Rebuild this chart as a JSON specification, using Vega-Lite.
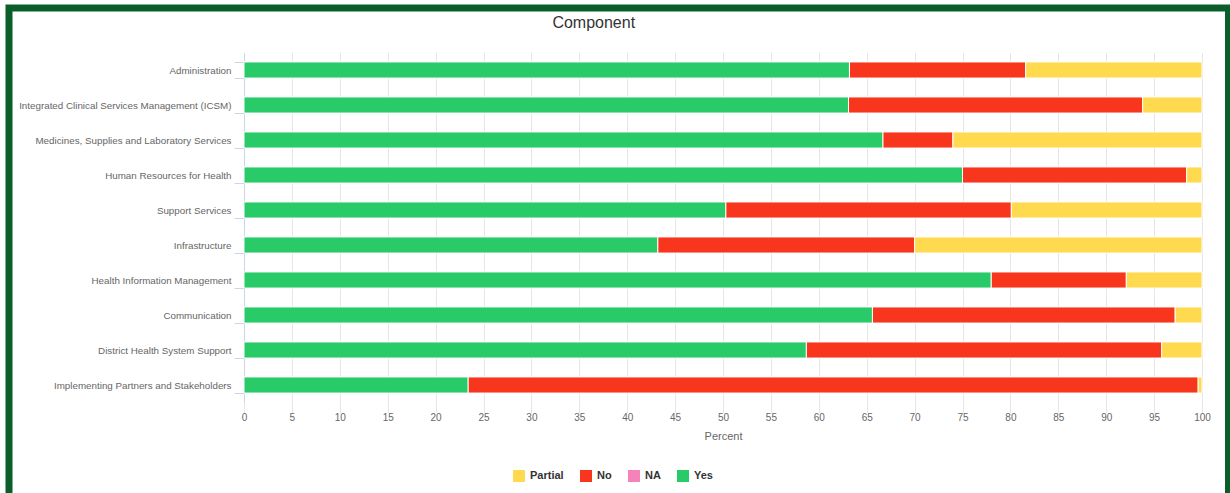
{
  "$schema": "https://vega.github.io/schema/vega-lite/v6.json",
  "width": 1219.5,
  "height": 497,
  "autosize": {"type": "none"},
  "padding": {"left": 9, "top": 8, "right": 1.5, "bottom": -12},
  "background": "white",
  "title": {"text": "Component", "offset": -28, "dx": -25, "font": "Liberation Sans", "fontSize": 16, "fontWeight": "normal", "color": "#333333", "anchor": "middle", "frame": "group"},
  "config": {"view": {"stroke": "#0b5e2a", "strokeWidth": 7, "fill": "white"}},
  "data": {"values": [
    {"component": "Administration", "status": "Yes", "value": 63.2},
    {"component": "Administration", "status": "No", "value": 18.4},
    {"component": "Administration", "status": "Partial", "value": 18.4},
    {"component": "Integrated Clinical Services Management (ICSM)", "status": "Yes", "value": 63.1},
    {"component": "Integrated Clinical Services Management (ICSM)", "status": "No", "value": 30.7},
    {"component": "Integrated Clinical Services Management (ICSM)", "status": "Partial", "value": 6.2},
    {"component": "Medicines, Supplies and Laboratory Services", "status": "Yes", "value": 66.7},
    {"component": "Medicines, Supplies and Laboratory Services", "status": "No", "value": 7.3},
    {"component": "Medicines, Supplies and Laboratory Services", "status": "Partial", "value": 26.0},
    {"component": "Human Resources for Health", "status": "Yes", "value": 75.0},
    {"component": "Human Resources for Health", "status": "No", "value": 23.4},
    {"component": "Human Resources for Health", "status": "Partial", "value": 1.6},
    {"component": "Support Services", "status": "Yes", "value": 50.3},
    {"component": "Support Services", "status": "No", "value": 29.8},
    {"component": "Support Services", "status": "Partial", "value": 19.9},
    {"component": "Infrastructure", "status": "Yes", "value": 43.2},
    {"component": "Infrastructure", "status": "No", "value": 26.8},
    {"component": "Infrastructure", "status": "Partial", "value": 30.0},
    {"component": "Health Information Management", "status": "Yes", "value": 78.0},
    {"component": "Health Information Management", "status": "No", "value": 14.1},
    {"component": "Health Information Management", "status": "Partial", "value": 7.9},
    {"component": "Communication", "status": "Yes", "value": 65.6},
    {"component": "Communication", "status": "No", "value": 31.6},
    {"component": "Communication", "status": "Partial", "value": 2.8},
    {"component": "District Health System Support", "status": "Yes", "value": 58.7},
    {"component": "District Health System Support", "status": "No", "value": 37.1},
    {"component": "District Health System Support", "status": "Partial", "value": 4.2},
    {"component": "Implementing Partners and Stakeholders", "status": "Yes", "value": 23.4},
    {"component": "Implementing Partners and Stakeholders", "status": "No", "value": 76.2},
    {"component": "Implementing Partners and Stakeholders", "status": "Partial", "value": 0.4}
  ]},
  "resolve": {"axis": {"x": "independent"}},
  "layer": [
    {
      "transform": [{"filter": "datum.value < 0"}],
      "mark": {"type": "bar"},
      "encoding": {
        "x": {
          "field": "value", "type": "quantitative",
          "scale": {"domain": [0, 100], "range": [235, 1193], "nice": false},
          "axis": {"orient": "top", "offset": 0, "values": [0,5,10,15,20,25,30,35,40,45,50,55,60,65,70,75,80,85,90,95,100], "domain": false, "ticks": false, "labels": false, "title": null, "grid": true, "gridColor": "#e6e6e6", "gridWidth": 1}
        },
        "y": {
          "field": "component", "type": "nominal", "sort": null,
          "scale": {"range": [44.5, 394.5], "paddingInner": 0.54, "paddingOuter": 0.27}
        }
      }
    },
    {
      "transform": [{"calculate": "indexof(['Yes','No','NA','Partial'], datum.status)", "as": "stackOrder"}],
      "mark": {"type": "bar", "stroke": "white", "strokeWidth": 1},
      "encoding": {
        "y": {
          "field": "component", "type": "nominal", "sort": null, "title": null,
          "scale": {"range": [44.5, 394.5], "paddingInner": 0.54, "paddingOuter": 0.27},
          "axis": {"offset": -235, "labelLimit": 320, "labelFont": "Liberation Sans", "labelFontSize": 9.8, "labelColor": "#666666", "labelPadding": 3, "tickSize": 10, "tickColor": "#ccd6eb", "domainColor": "#ccd6eb", "tickBand": "extent", "grid": false}
        },
        "x": {
          "field": "value", "type": "quantitative", "stack": "zero", "title": "Percent",
          "scale": {"domain": [0, 100], "range": [235, 1193], "nice": false},
          "axis": {"orient": "bottom", "offset": -102.5, "values": [0,5,10,15,20,25,30,35,40,45,50,55,60,65,70,75,80,85,90,95,100], "domain": false, "grid": false, "tickColor": "#e6e6e6", "tickSize": 10, "labelFont": "Liberation Sans", "labelFontSize": 10, "labelColor": "#666666", "labelPadding": 0, "labelFlush": false, "titleFont": "Liberation Sans", "titleFontSize": 11, "titleFontWeight": "normal", "titleColor": "#666666", "titlePadding": 8}
        },
        "color": {
          "field": "status", "type": "nominal",
          "scale": {"domain": ["Partial", "No", "NA", "Yes"], "range": ["#ffda4e", "#f8361d", "#f782b9", "#29cb69"]},
          "legend": {"title": null, "orient": "none", "legendX": 504, "legendY": 462, "direction": "horizontal", "symbolType": "square", "symbolSize": 144, "symbolStrokeWidth": 0, "symbolOpacity": 1, "labelFont": "Liberation Sans", "labelFontSize": 11, "labelFontWeight": "bold", "labelColor": "#333333", "columnPadding": 16, "labelOffset": 5, "padding": 0}
        },
        "order": {"field": "stackOrder", "type": "quantitative"}
      }
    }
  ]
}
